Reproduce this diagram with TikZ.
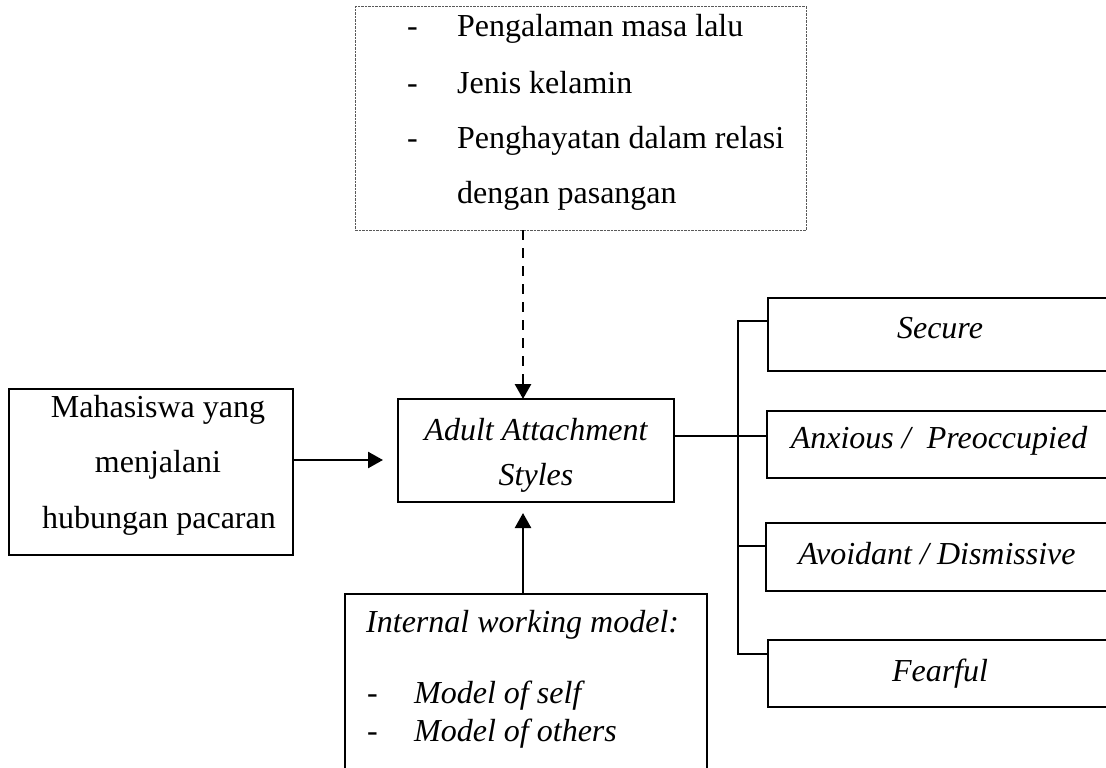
\documentclass[tikz,border=0pt]{standalone}
\usepackage{fontspec}
\setmainfont{Liberation Serif}
\usetikzlibrary{arrows.meta}
\begin{document}
\begin{tikzpicture}[x=1pt,y=-1pt,
  box/.style={draw, line width=2pt, rectangle, inner sep=0pt, outer sep=0pt, anchor=north west},
  dbox/.style={draw=black!65, line width=1pt, dash pattern=on 2.5pt off 1pt, rectangle, inner sep=0pt, outer sep=0pt, anchor=north west},
  txt/.style={inner sep=0pt, anchor=base west, font=\fontsize{32}{38}\selectfont},
  ctxt/.style={inner sep=0pt, anchor=base, font=\fontsize{32}{38}\selectfont},
  itxt/.style={inner sep=0pt, anchor=base west, font=\fontsize{32}{38}\selectfont\itshape},
  ictxt/.style={inner sep=0pt, anchor=base, font=\fontsize{32}{38}\selectfont\itshape},
  conn/.style={line width=1.8pt},
  arr/.style={line width=2.5pt, -{Triangle[length=15pt,width=16pt]}},
  darr/.style={line width=2.8pt, dash pattern=on 10pt off 8pt, -{Triangle[length=15pt,width=16pt]}},
]
\useasboundingbox (0,0) rectangle (1106,768);
\clip (0,0) rectangle (1106,768);

% boxes
\node[dbox, minimum width=451pt, minimum height=223pt] (topbox) at (355,7) {};
\node[box, minimum width=284pt, minimum height=166pt] (leftbox) at (9,389) {};
\node[box, minimum width=276pt, minimum height=103pt] (adult) at (398,399) {};
\node[box, minimum width=362pt, minimum height=220pt] (iwm) at (345,594) {};
\node[box, minimum width=344pt, minimum height=73pt] (secure) at (768,298) {};
\node[box, minimum width=345pt, minimum height=67pt] (anxious) at (767,411) {};
\node[box, minimum width=346pt, minimum height=68pt] (avoidant) at (766,523) {};
\node[box, minimum width=344pt, minimum height=67pt] (fearful) at (768,640) {};

% top box text
\node[txt] (d1) at (407,37) {-};
\node[txt] (f1) at (457,37) {Pengalaman masa lalu};
\node[txt] (d2) at (407,93) {-};
\node[txt] (f2) at (457,93) {Jenis kelamin};
\node[txt] (d3) at (407,148) {-};
\node[txt] (f3) at (457,148) {Penghayatan dalam relasi};
\node[txt] (f4) at (457,203) {dengan pasangan};

% left box text
\node[ctxt] (m1) at (158,417) {Mahasiswa yang};
\node[ctxt] (m2) at (158,472) {menjalani};
\node[ctxt] (m3) at (159,528) {hubungan pacaran};

% adult box text
\node[ictxt] (a1) at (536,440) {Adult Attachment};
\node[ictxt] (a2) at (536,485) {Styles};

% bottom box text
\node[itxt] (i1) at (366,632) {Internal working model:};
\node[txt] (id1) at (367,703) {-};
\node[itxt] (i2) at (414,703) {Model of self};
\node[txt] (id2) at (367,741) {-};
\node[itxt] (i3) at (414,741) {Model of others};

% right box text
\node[ictxt] (s1) at (940,338) {Secure};
\node[ictxt] (s2) at (939,448) {Anxious /\ \ Preoccupied};
\node[ictxt] (s3) at (937,564) {Avoidant / Dismissive};
\node[ictxt] (s4) at (940,681) {Fearful};

% connectors
\coordinate (ax) at (523,0);
\coordinate (ay) at (0,460);
\draw[darr] (topbox.south -| ax) -- (adult.north -| ax);
\draw[arr, shorten >=11pt] (iwm.north -| ax) -- (adult.south -| ax);
\draw[arr, shorten >=15pt] (leftbox.east |- ay) -- (adult.west |- ay);

\coordinate (t1) at (738,321);
\coordinate (t2) at (738,436);
\coordinate (t3) at (738,546);
\coordinate (t4) at (738,654);
\draw[conn] (secure.west |- t1) -- (t1) -- (t4) -- (fearful.west |- t4);
\draw[conn] (adult.east |- t2) -- (anxious.west |- t2);
\draw[conn] (t3) -- (avoidant.west |- t3);
\end{tikzpicture}
\end{document}
